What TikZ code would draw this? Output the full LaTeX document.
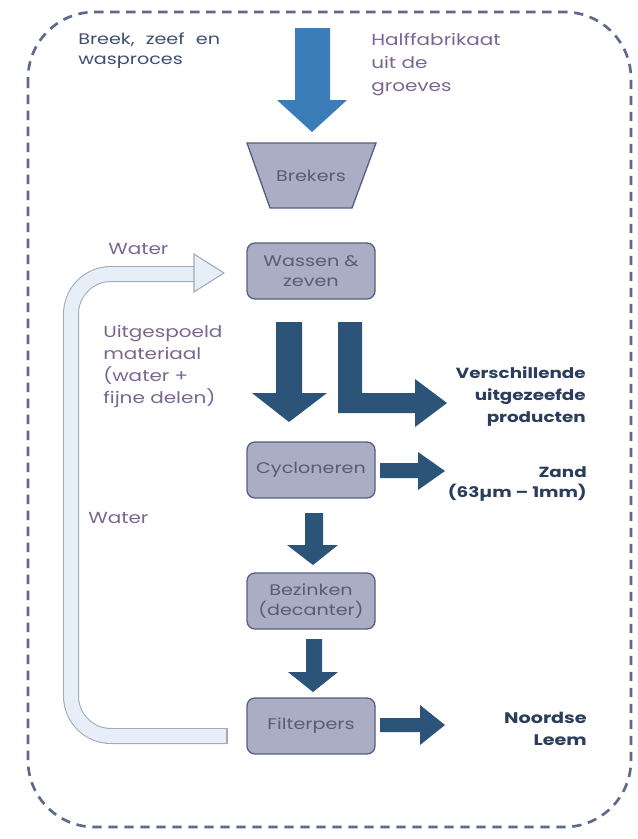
\documentclass[tikz,border=0pt]{standalone}
\usepackage{fontspec}
\setmainfont{Poppins}[FakeStretch=1.25]
\newfontfamily\wideword{Poppins}[FakeStretch=1.25, WordSpace=2.2]
\definecolor{boxfill}{HTML}{AAADC4}
\definecolor{boxborder}{HTML}{56607F}
\definecolor{boxtext}{HTML}{585D70}
\definecolor{navy}{HTML}{2A3D5C}
\definecolor{purp}{HTML}{7A6690}
\definecolor{tl}{HTML}{3D4F72}
\definecolor{darkarrow}{HTML}{2C5479}
\definecolor{toparrow}{HTML}{3A7DB8}
\definecolor{wfill}{HTML}{E6EFF7}
\definecolor{wborder}{HTML}{A4AAB8}
\definecolor{dashc}{HTML}{5D6A8A}
\tikzset{
  procbox/.style={draw=boxborder, fill=boxfill, line width=1pt, rounded corners=6pt,
    minimum width=96pt, minimum height=42pt, align=center, text=boxtext,
    font=\fontsize{11.5}{15}\selectfont},
  boxtxt/.style={align=center, text=boxtext, font=\fontsize{11.5}{15}\selectfont},
  purplabel/.style={align=left, text=purp, font=\fontsize{12}{16.3}\selectfont, inner sep=0pt},
  navylabel/.style={align=right, text=navy, font=\bfseries\fontsize{11}{16.5}\selectfont, inner sep=0pt},
  blk/.style={fill=darkarrow, draw=none},
}
\begin{document}
\begin{tikzpicture}[x=0.75pt,y=-0.75pt]
\useasboundingbox (0,0) rectangle (638,839);
\fill[white] (0,0) rectangle (638,839);
% dashed frame
\draw[dashc, line width=2pt, dash pattern=on 7pt off 5pt, rounded corners=50pt]
  (28,12) rectangle (631,827);
% top label
\node[anchor=base west, align=left, text=tl, font=\wideword\fontsize{11.5}{15}\selectfont, inner sep=0pt]
  (title) at (78,64) {Breek, zeef en\\wasproces};
\node[purplabel, anchor=base west, font=\fontsize{12}{17}\selectfont] (half) at (371,91) {Halffabrikaat\\uit de\\groeves};
% top arrow
\fill[toparrow] (295,28) -- (330,28) -- (330,100) -- (347,100) -- (312,132) -- (277,100) -- (295,100) -- cycle;
% Brekers
\draw[draw=boxborder, fill=boxfill, line width=1pt] (247,143) -- (376,143) -- (352,208) -- (270,208) -- cycle;
\node[boxtxt] (brek) at (311,176) {Brekers};
% boxes
\node[procbox] (wassen) at (311,271) {Wassen \&\\zeven};
\node[procbox] (cyc) at (311,470) {Cycloneren};
\node[procbox] (bez) at (311,601) {Bezinken\\(decanter)};
\node[procbox] (filt) at (311,726) {Filterpers};
% water return
\draw[wborder, line width=0.8pt, double=wfill, double distance=10.4pt, rounded corners=30pt]
  (227,736) -- (71,736) -- (71,274) -- (196,274);
\draw[wborder, line width=0.8pt] (227,728) -- (227,744);
\draw[wborder, fill=wfill, line width=0.8pt] (194,254) -- (224,273) -- (194,292) -- cycle;
\node[purplabel, anchor=base west] (w1) at (108,254) {Water};
\node[purplabel, anchor=base west] (w2) at (88,523) {Water};
\node[purplabel, anchor=base west] (uit) at (103,403) {Uitgespoeld\\materiaal\\(water +\\fijne delen)};
% dark arrows
\fill[blk] (276,322) -- (302,322) -- (302,393) -- (327,393) -- (289,422) -- (252,393) -- (276,393) -- cycle;
\fill[blk] (338,322) -- (362,322) -- (362,393) -- (415,393) -- (415,379) -- (447,403) -- (415,427) -- (415,413) -- (338,413) -- cycle;
\fill[blk] (380,463) -- (418,463) -- (418,452) -- (445,471) -- (418,490) -- (418,478) -- (380,478) -- cycle;
\fill[blk] (305,513) -- (323,513) -- (323,545) -- (338,545) -- (313,565) -- (287,545) -- (305,545) -- cycle;
\fill[blk] (306,639) -- (322,639) -- (322,672) -- (338,672) -- (313,692) -- (288,672) -- (306,672) -- cycle;
\fill[blk] (380,718) -- (420,718) -- (420,705) -- (445,725) -- (420,745) -- (420,732) -- (380,732) -- cycle;
% right labels
\node[navylabel, anchor=base east] (versch) at (586,422) {Verschillende\\uitgezeefde\\producten};
\node[navylabel, anchor=base east, font=\bfseries\fontsize{11}{15}\selectfont] (zand) at (587,497) {Zand\\(63µm – 1mm)};
\node[navylabel, anchor=base east, font=\bfseries\fontsize{11.5}{16.5}\selectfont] (leem) at (587,745) {Noordse\\Leem};
\end{tikzpicture}
\end{document}
